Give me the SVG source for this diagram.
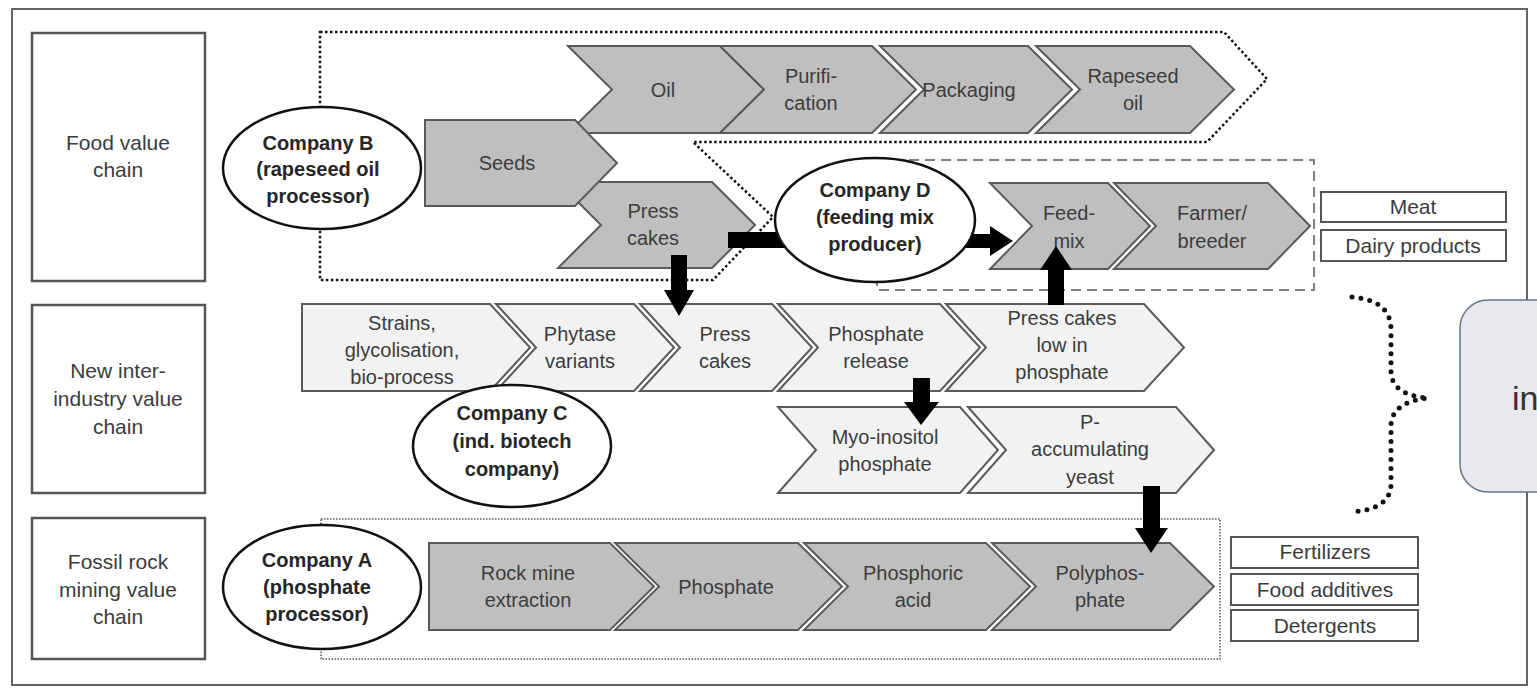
<svg xmlns="http://www.w3.org/2000/svg" width="1537" height="692" viewBox="0 0 1537 692">
<style>
.frame{fill:#fff;stroke:#666;stroke-width:2}
.lbl{fill:#fff;stroke:#555;stroke-width:2.5}
.dk{fill:#bfbfbf;stroke:#5a5a5a;stroke-width:2;stroke-linejoin:miter}
.lt{fill:#f2f2f2;stroke:#5a5a5a;stroke-width:2;stroke-linejoin:miter}
.co{fill:#fff;stroke:#111;stroke-width:2.5}
.out{fill:#fff;stroke:#555;stroke-width:2}
.dotB{fill:none;stroke:#111;stroke-width:2.5;stroke-dasharray:2.5 2.5}
.dotA{fill:none;stroke:#555;stroke-width:1.5;stroke-dasharray:1.5 1.5}
.dash{fill:none;stroke:#808080;stroke-width:2;stroke-dasharray:10 6}
.arr{fill:#000}
.t{font-family:'Liberation Sans',Arial,sans-serif;font-size:20px;fill:#3c3c3c;text-anchor:middle}
.L{font-family:'Liberation Sans',Arial,sans-serif;font-size:21px;fill:#3c3c3c;text-anchor:middle}
.b{font-family:'Liberation Sans',Arial,sans-serif;font-size:20px;font-weight:bold;fill:#262626;text-anchor:middle}
</style>
<rect x="0" y="0" width="1537" height="692" fill="#fff"/>
<rect class="frame" x="12" y="9" width="1515" height="676"/>

<!-- scope outlines -->
<g id="scopes">
  <polygon class="dotB" points="320,32 1224,32 1267,79 1207,142 693,142 773,217 713,280 320,280"/>
  <rect class="dash" x="877" y="160" width="437" height="130"/>
  <rect class="dotA" x="321" y="519" width="899" height="140"/>
</g>

<!-- row labels -->
<g id="label-food">
  <rect class="lbl" x="32" y="33" width="173" height="248"/>
  <text class="L" x="118" y="150">Food value</text>
  <text class="L" x="118" y="177">chain</text>
</g>
<g id="label-new">
  <rect class="lbl" x="32" y="305" width="173" height="188"/>
  <text class="L" x="118" y="378">New inter-</text>
  <text class="L" x="118" y="406">industry value</text>
  <text class="L" x="118" y="434">chain</text>
</g>
<g id="label-fossil">
  <rect class="lbl" x="32" y="518" width="173" height="141"/>
  <text class="L" x="118" y="569">Fossil rock</text>
  <text class="L" x="118" y="597">mining value</text>
  <text class="L" x="118" y="624">chain</text>
</g>

<!-- food value chain -->
<g id="oil"><polygon class="dk" points="568,46 720,46 764,89.5 720,133 568,133 612,89.5"/><text class="t" x="663" y="97">Oil</text></g>
<g id="purification"><polygon class="dk" points="720,46 872,46 916,89.5 872,133 720,133 764,89.5"/><text class="t" x="811" y="83">Purifi-</text><text class="t" x="811" y="110">cation</text></g>
<g id="packaging"><polygon class="dk" points="880,46 1028,46 1072,89.5 1028,133 880,133 924,89.5"/><text class="t" x="969" y="97">Packaging</text></g>
<g id="rapeseed-oil"><polygon class="dk" points="1036,46 1190,46 1234,89.5 1190,133 1036,133 1080,89.5"/><text class="t" x="1133" y="83">Rapeseed</text><text class="t" x="1133" y="110">oil</text></g>
<g id="press-cakes-1"><polygon class="dk" points="558,182 712,182 755,225 712,268 558,268 601,225"/><text class="t" x="653" y="218">Press</text><text class="t" x="653" y="245">cakes</text></g>
<g id="seeds"><polygon class="dk" points="425,120 575,120 617,163 575,206 425,206"/><text class="t" x="507" y="170">Seeds</text></g>
<g id="feed-mix"><polygon class="dk" points="990,183 1108,183 1150,226 1108,269 990,269 1032,226"/><text class="t" x="1069" y="220">Feed-</text><text class="t" x="1069" y="248">mix</text></g>
<g id="farmer"><polygon class="dk" points="1114,183 1268,183 1310,226 1268,269 1114,269 1156,226"/><text class="t" x="1212" y="220">Farmer/</text><text class="t" x="1212" y="248">breeder</text></g>
<g id="meat"><rect class="out" x="1321" y="192" width="185" height="30"/><text class="L" x="1413" y="214">Meat</text></g>
<g id="dairy"><rect class="out" x="1321" y="230" width="185" height="31"/><text class="L" x="1413" y="253">Dairy products</text></g>

<!-- new inter-industry value chain -->
<g id="strains"><polygon class="lt" points="302,304 490,304 530,347.5 490,391 302,391"/><text class="t" x="402" y="330">Strains,</text><text class="t" x="402" y="357">glycolisation,</text><text class="t" x="402" y="384">bio-process</text></g>
<g id="phytase"><polygon class="lt" points="496,304 634,304 674,347.5 634,391 496,391 536,347.5"/><text class="t" x="580" y="341">Phytase</text><text class="t" x="580" y="368">variants</text></g>
<g id="press-cakes-2"><polygon class="lt" points="640,304 772,304 812,347.5 772,391 640,391 680,347.5"/><text class="t" x="725" y="341">Press</text><text class="t" x="725" y="368">cakes</text></g>
<g id="phosphate-release"><polygon class="lt" points="778,304 940,304 980,347.5 940,391 778,391 818,347.5"/><text class="t" x="876" y="341">Phosphate</text><text class="t" x="876" y="368">release</text></g>
<g id="press-cakes-low"><polygon class="lt" points="946,304 1144,304 1184,347.5 1144,391 946,391 986,347.5"/><text class="t" x="1062" y="325">Press cakes</text><text class="t" x="1062" y="352">low in</text><text class="t" x="1062" y="379">phosphate</text></g>
<g id="myo-inositol"><polygon class="lt" points="778,407 960,407 998,450 960,493 778,493 816,450"/><text class="t" x="885" y="444">Myo-inositol</text><text class="t" x="885" y="471">phosphate</text></g>
<g id="p-accumulating"><polygon class="lt" points="968,407 1176,407 1214,450 1176,493 968,493 1006,450"/><text class="t" x="1090" y="429">P-</text><text class="t" x="1090" y="456">accumulating</text><text class="t" x="1090" y="484">yeast</text></g>

<!-- fossil rock chain -->
<g id="rock-mine"><polygon class="dk" points="429,543 610,543 654,586.5 610,630 429,630"/><text class="t" x="528" y="580">Rock mine</text><text class="t" x="528" y="607">extraction</text></g>
<g id="phosphate"><polygon class="dk" points="615,543 798,543 842,586.5 798,630 615,630 659,586.5"/><text class="t" x="726" y="594">Phosphate</text></g>
<g id="phosphoric-acid"><polygon class="dk" points="804,543 986,543 1030,586.5 986,630 804,630 848,586.5"/><text class="t" x="913" y="580">Phosphoric</text><text class="t" x="913" y="607">acid</text></g>
<g id="polyphosphate"><polygon class="dk" points="992,543 1170,543 1214,586.5 1170,630 992,630 1036,586.5"/><text class="t" x="1100" y="580">Polyphos-</text><text class="t" x="1100" y="607">phate</text></g>
<g id="fertilizers"><rect class="out" x="1231" y="537" width="187" height="31"/><text class="L" x="1325" y="559">Fertilizers</text></g>
<g id="food-additives"><rect class="out" x="1231" y="574" width="187" height="31"/><text class="L" x="1325" y="597">Food additives</text></g>
<g id="detergents"><rect class="out" x="1231" y="610" width="187" height="31"/><text class="L" x="1325" y="633">Detergents</text></g>

<!-- connectors -->
<g id="connectors">
  <polygon class="arr" points="671,255 687,255 687,290 694,290 679,316 664,290 671,290"/>
  <rect class="arr" x="728" y="232" width="72" height="16"/>
  <polygon class="arr" points="960,234 990,234 990,226 1013,241 990,256 990,248 960,248"/>
  <polygon class="arr" points="1048,305 1048,270 1040,270 1056,246 1072,270 1064,270 1064,305"/>
  <polygon class="arr" points="913,378 930,378 930,402 939,402 921,425 904,402 913,402"/>
  <polygon class="arr" points="1143,486 1160,486 1160,528 1168,528 1151,553 1135,528 1143,528"/>
  <path d="M1352,297 Q1391,300 1391,330 L1391,372 Q1392,395 1428,398 Q1392,402 1391,425 L1391,485 Q1390,510 1350,512" fill="none" stroke="#111" stroke-width="5" stroke-linecap="round" stroke-dasharray="0 9"/>
</g>

<!-- companies -->
<g id="company-b"><ellipse class="co" cx="322" cy="168" rx="99" ry="61"/><text class="b" x="318" y="150">Company B</text><text class="b" x="318" y="176">(rapeseed oil</text><text class="b" x="318" y="203">processor)</text></g>
<g id="company-d"><ellipse class="co" cx="875" cy="220" rx="100" ry="62"/><text class="b" x="875" y="197">Company D</text><text class="b" x="875" y="224">(feeding mix</text><text class="b" x="875" y="251">producer)</text></g>
<g id="company-c"><ellipse class="co" cx="512" cy="446" rx="99" ry="61"/><text class="b" x="512" y="420">Company C</text><text class="b" x="512" y="448">(ind. biotech</text><text class="b" x="512" y="476">company)</text></g>
<g id="company-a"><ellipse class="co" cx="322" cy="587" rx="99" ry="62"/><text class="b" x="317" y="567">Company A</text><text class="b" x="317" y="594">(phosphate</text><text class="b" x="317" y="621">processor)</text></g>

<!-- cut-off box on the right -->
<g id="outcome">
  <rect x="1460" y="300" width="140" height="192" rx="28" fill="#e8e8ec" stroke="#66768f" stroke-width="1.5"/>
  <text x="1512" y="410" font-family="'Liberation Sans',Arial,sans-serif" font-size="34" fill="#333">in</text>
</g>
</svg>
